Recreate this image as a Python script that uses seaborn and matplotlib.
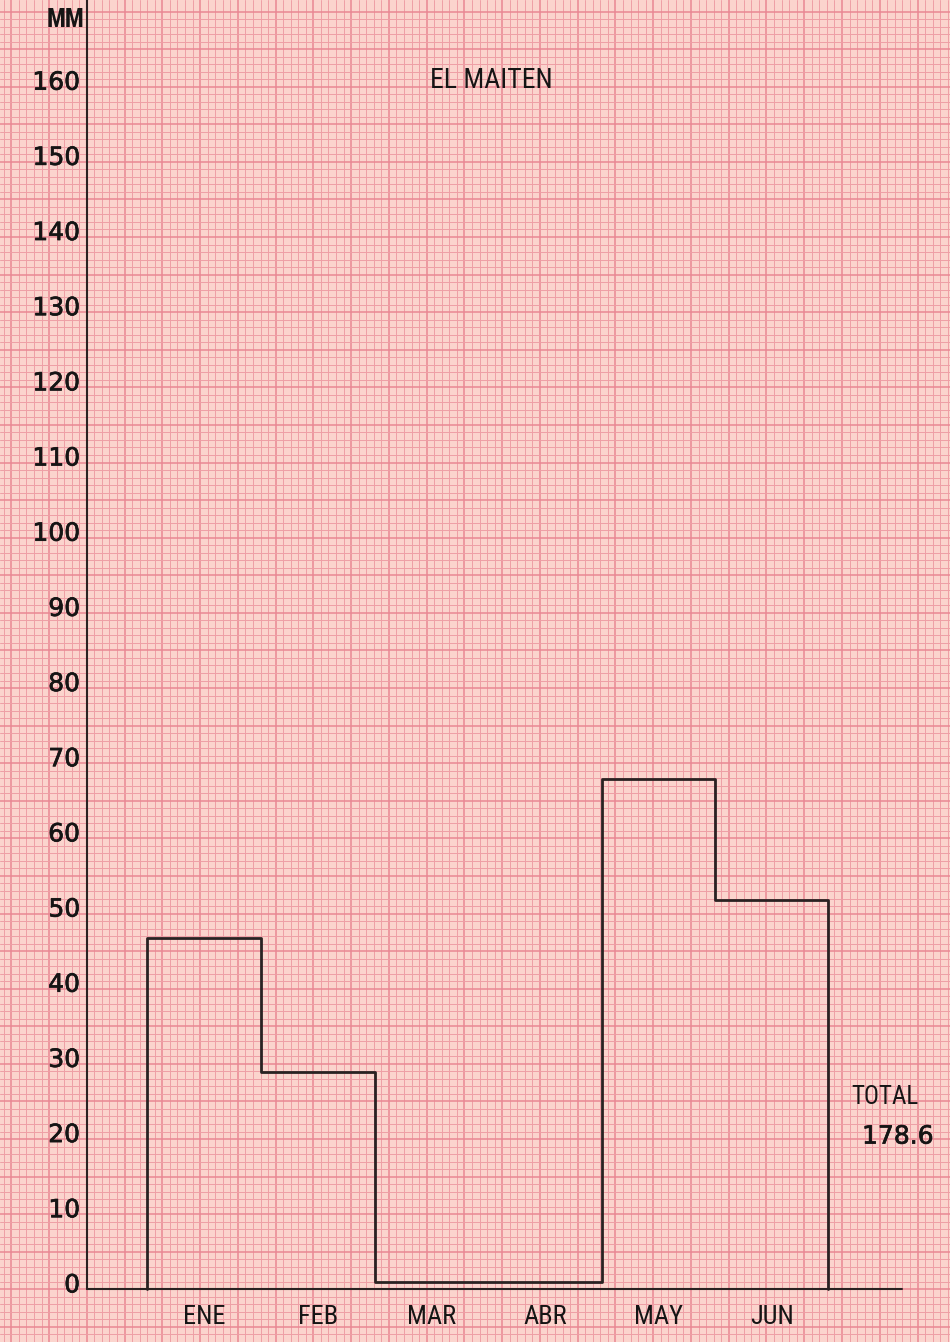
import numpy as np
import pandas as pd
import matplotlib
matplotlib.use("Agg")
import matplotlib.pyplot as plt
import matplotlib.patheffects as pe
import seaborn as sns

# data (mm of rain per month)
months = ["ENE", "FEB", "MAR", "ABR", "MAY", "JUN"]
rain = [45.8, 28.0, 0.0, 0.0, 67.0, 50.9]
edges = [8.0, 23.1, 38.2, 53.2, 68.2, 83.2, 98.2]
yticks = list(range(0, 170, 10))
title = "EL MAITEN"
total_txt = "178.6"

BASE = -0.93          # where the hand-drawn x axis sits
XLIM = (-11.5, 114.3)
YLIM = (-7.15, 170.6)

PAPER = "#fbd4cd"
MINOR = "#ee9fa5"
MAJOR = "#e98893"
INK = "#2a2222"
TXT = "#151515"

sns.set_style("white", rc={"axes.facecolor": PAPER, "figure.facecolor": PAPER})
plt.rcParams["font.family"] = ["DejaVu Sans"]
NARROW = ["Noto Sans Condensed", "Roboto Condensed", "Liberation Sans Narrow",
          "Open Sans Condensed", "DejaVu Sans"]
bold_fx = [pe.withStroke(linewidth=0.5, foreground=TXT)]

fig = plt.figure(figsize=(9.5, 13.42), dpi=100)
ax = fig.add_axes([0, 0, 1, 1])
ax.set_xlim(*XLIM)
ax.set_ylim(*YLIM)

# graph paper: 1 unit fine lines, every 5 darker
xs_minor = np.arange(-11, 115, 1)
ys_minor = np.arange(-7, 171, 1) + BASE
ax.set_xticks(xs_minor[xs_minor % 5 == 0])
ax.set_xticks(xs_minor, minor=True)
ax.set_yticks([y for y in ys_minor if round(y - BASE) % 5 == 0])
ax.set_yticks(ys_minor, minor=True)
ax.grid(which="minor", color=MINOR, linewidth=0.7)
ax.grid(which="major", color=MAJOR, linewidth=1.1)
ax.tick_params(which="both", length=0, labelbottom=False, labelleft=False)
for s in ax.spines.values():
    s.set_visible(False)
ax.set_axisbelow(True)

# axes drawn by hand
ax.plot([0, 0], [BASE, YLIM[1]], color=INK, lw=1.5)
ax.plot([0, 107.9], [BASE, BASE], color=INK, lw=1.5)

# step outline of the monthly totals
e = np.array(edges)
v = np.array(rain)
px = np.repeat(e, 2)
py = np.concatenate([[BASE], np.repeat(v, 2), [BASE]])
step = pd.DataFrame({"x": px, "y": py})
sns.lineplot(data=step, x="x", y="y", sort=False, estimator=None,
             color=INK, linewidth=2.0, ax=ax)
ax.set_xlabel("")
ax.set_ylabel("")

# labels
for t in yticks:
    ax.text(-0.9, t - 0.4, str(t), ha="right", va="center", fontsize=18,
            color=TXT, path_effects=bold_fx)
ax.text(-2.8, 168.0, "MM", ha="center", va="center", fontsize=18,
        family=NARROW, fontstretch="condensed", fontweight="bold", color=TXT)
ax.text(53.5, 159.9, title, ha="center", va="center", fontsize=20,
        family=NARROW, fontstretch="condensed", color=TXT)
centers = (e[:-1] + e[1:]) / 2
for c, m in zip(centers, months):
    ax.text(c, -4.6, m, ha="center", va="center", fontsize=19,
            family=NARROW, fontstretch="condensed", color=TXT)
ax.text(105.7, 24.6, "TOTAL", ha="center", va="center", fontsize=18,
        family=NARROW, fontstretch="condensed", color=TXT)
ax.text(107.4, 19.4, total_txt, ha="center", va="center", fontsize=18,
        color=TXT, path_effects=bold_fx)

fig.savefig("out.png", dpi=100, facecolor=PAPER)
